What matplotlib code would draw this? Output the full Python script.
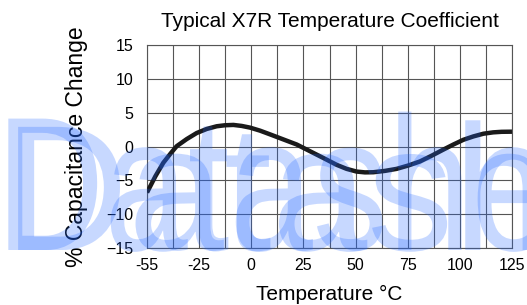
import numpy as np
import matplotlib.pyplot as plt
from matplotlib.textpath import TextPath
from matplotlib.font_manager import FontProperties
from matplotlib.patches import PathPatch
from matplotlib.transforms import Affine2D, IdentityTransform

plt.rcParams['font.family'] = ['Liberation Sans', 'DejaVu Sans']

# axis position units: the left edge (-55 label) sits where -50 would be
temp = [-50, -46, -42.2, -38.5, -35.8, -31, -26.2, -21.4, -16.6, -12.6, -8.6,
        -4.6, -0.6, 4.2, 9.0, 15.4, 21.8, 26.6, 31.4, 36.2, 40.9, 45.7,
        50.5, 54.5, 58.5, 64.1, 69.7, 75.3, 80.9, 86.5, 92.1, 96.9, 101.7,
        106.5, 111.3, 116, 120, 125]
cap_change = [-6.8, -4.4, -2.4, -0.95, 0.05, 1.1, 2.0, 2.6, 3.0, 3.15, 3.2,
              3.05, 2.8, 2.35, 1.8, 1.05, 0.3, -0.45, -1.2, -1.95, -2.7, -3.3,
              -3.7, -3.82, -3.8, -3.6, -3.3, -2.8, -2.2, -1.35, -0.45, 0.3, 1.0,
              1.5, 1.9, 2.1, 2.18, 2.2]

xtick_pos = [-50, -25, 0, 25, 50, 75, 100, 125]
xtick_labels = ['-55', '-25', '0', '25', '50', '75', '100', '125']
ytick_pos = [-15, -10, -5, 0, 5, 10, 15]

fig = plt.figure(figsize=(5.27, 3.05), dpi=100)
ax = fig.add_axes([0.279, 0.187, 0.6925, 0.665])

ax.plot(temp, cap_change, color='#1a1a1a', lw=3.2, solid_capstyle='butt',
        solid_joinstyle='round', zorder=3)

ax.set_xlim(-50, 125)
ax.set_ylim(-15, 15)
ax.set_xticks(np.arange(-50, 126, 12.5), minor=True)
ax.set_xticks(xtick_pos)
ax.set_xticklabels(xtick_labels)
ax.set_yticks(ytick_pos)
ax.grid(True, which='both', axis='x', color='#555555', lw=0.8)
ax.grid(True, which='major', axis='y', color='#555555', lw=0.8)
ax.tick_params(which='both', length=0, labelsize=11.5)
ax.tick_params(axis='x', pad=7)
ax.tick_params(axis='y', pad=10)
for s in ax.spines.values():
    s.set_color('#555555')
    s.set_linewidth(0.8)

ax.set_title('Typical X7R Temperature Coefficient', fontsize=15, pad=13)
ax.set_xlabel('Temperature °C', fontsize=15, labelpad=8.5)
ax.set_ylabel('% Capacitance Change', fontsize=16.5, labelpad=13)

# watermark: two overlapping copies of the text drawn over the chart
tp = TextPath((0, 0), 'Datasheet', size=100, prop=FontProperties(family='Liberation Sans'))
for x0, sx, sy in [(-4, 1.5, 1.91), (4, 1.72, 1.79)]:
    tr = Affine2D().scale(sx, sy).translate(x0, 55)
    patch = PathPatch(tr.transform_path(tp), facecolor='#2266ff', edgecolor='none',
                      alpha=0.25, transform=IdentityTransform(), zorder=10)
    fig.add_artist(patch)

fig.savefig('out.png', dpi=100)
